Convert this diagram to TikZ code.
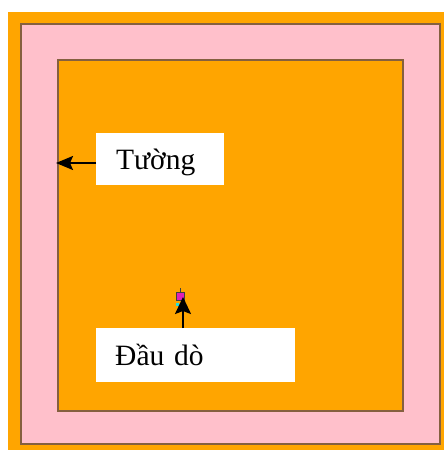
\documentclass[tikz,border=0pt]{standalone}
\usepackage{fontspec}
\setmainfont{Liberation Serif}
\usetikzlibrary{arrows.meta}
\definecolor{roomorange}{HTML}{FFA500}
\definecolor{wallpink}{HTML}{FFC0CB}
\definecolor{edgebrown}{HTML}{85603F}
\definecolor{probemag}{HTML}{E01FB8}
\definecolor{probecyan}{HTML}{20E0E0}
\tikzset{
  wallrect/.style={draw=edgebrown, line width=1.5pt},
  labelbox/.style={fill=white, draw=none, anchor=north west, align=left,
    font=\fontsize{29.5}{34}\selectfont, text height=20pt, text depth=0pt,
    inner ysep=0pt},
  pointer/.style={draw=black, line width=2pt,
    -{Stealth[length=17pt, width=14pt, inset=3pt]}},
  bigpointer/.style={pointer,
    -{Stealth[length=17pt, width=16pt, inset=3pt]}},
}
\begin{document}
\begin{tikzpicture}[x=1pt, y=-1pt]
  \useasboundingbox (0,0) rectangle (444,450);
  % page margin and outer ground
  \fill[white] (0,0) rectangle (444,450);
  \fill[roomorange] (8,12) rectangle (444,450);
  % wall band
  \filldraw[wallrect, fill=wallpink] (21,24) rectangle (440,444);
  % room interior
  \filldraw[wallrect, fill=roomorange] (58,60) rectangle (403,411);

  % labels
  \node[labelbox, minimum width=128pt, minimum height=52pt,
        text width=88pt, inner xsep=20pt] (wall) at (96,133) {Tường};
  \node[labelbox, minimum width=199pt, minimum height=54pt,
        text width=161pt, inner xsep=19pt] (probelabel) at (96,328) {Đầu dò};

  % probe
  \node[draw=black!75, line width=1pt, fill=probemag, minimum width=8pt,
        minimum height=8pt, inner sep=0pt] (probe) at (180,296) {};
  \draw[black!75, line width=1pt] (probe.north) -- ++(0,-4);
  \fill[probecyan] (176,303) rectangle (178.5,306);

  % pointers
  \coordinate (walltip) at (56,163);
  \coordinate (probetip) at (183,297);
  \draw[pointer] (wall.west |- walltip) -- (walltip);
  \draw[bigpointer] (probelabel.north -| probetip) -- (probetip);
\end{tikzpicture}
\end{document}
